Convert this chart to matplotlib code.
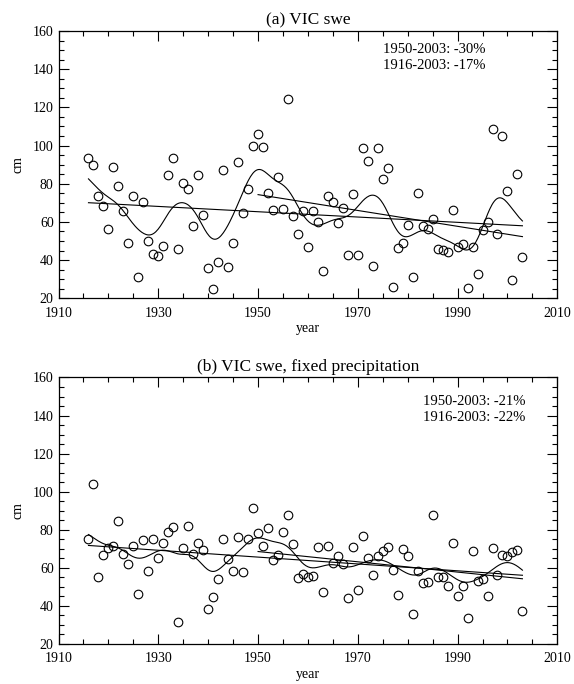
import numpy as np
import matplotlib
matplotlib.use('Agg')
import matplotlib.pyplot as plt
from matplotlib.ticker import MultipleLocator

plt.rcParams['font.family'] = ['Liberation Serif', 'DejaVu Serif']

years = np.arange(1916, 2004)
xticks = [1910, 1930, 1950, 1970, 1990, 2010]

# (a) VIC swe, cm
swe = [93.6, 89.8, 73.7, 68.5, 56.3, 88.6, 78.7, 65.6, 49.0, 73.7,
       31.2, 70.6, 50.2, 43.4, 42.2, 47.6, 84.4, 93.6, 45.7, 80.4,
       77.4, 57.7, 84.4, 63.8, 35.9, 24.9, 39.2, 87.4, 36.6, 49.0,
       91.2, 64.8, 77.1, 99.6, 106.2, 99.4, 75.0, 66.1, 83.7, 66.6,
       124.2, 63.1, 53.8, 65.7, 46.9, 65.7, 59.8, 34.1, 73.4, 70.4,
       59.4, 67.5, 42.8, 74.6, 42.8, 98.6, 91.9, 37.1, 98.7, 82.7,
       88.4, 26.1, 46.2, 48.8, 58.4, 31.0, 75.2, 58.0, 56.3, 61.5,
       46.0, 45.1, 44.3, 66.3, 47.0, 48.3, 25.2, 47.0, 32.6, 55.9,
       60.0, 108.5, 53.7, 104.9, 76.4, 29.6, 85.3, 41.6]

# (b) VIC swe, fixed precipitation, cm
swe_fixed = [75.4, 104.1, 55.1, 66.5, 70.3, 71.5, 84.8, 67.2, 61.9, 71.5,
             46.0, 74.5, 58.3, 74.9, 65.2, 72.8, 78.6, 81.5, 31.5, 70.2,
             82.0, 67.3, 72.9, 69.4, 38.5, 44.5, 54.2, 75.2, 64.4, 58.6,
             76.3, 57.9, 75.2, 91.3, 78.4, 71.5, 80.7, 64.2, 66.5, 78.6,
             88.0, 72.3, 54.8, 56.9, 55.1, 55.6, 70.9, 47.1, 71.7, 62.5,
             66.3, 61.8, 44.1, 70.9, 48.2, 76.5, 65.1, 56.3, 66.3, 68.9,
             71.2, 59.0, 45.8, 70.0, 66.3, 35.7, 58.3, 51.8, 52.5, 87.8,
             55.0, 55.0, 50.4, 72.9, 45.0, 50.6, 33.8, 68.9, 53.0, 53.9,
             45.2, 70.5, 56.3, 66.8, 66.4, 68.4, 69.4, 37.5]

titles = ['(a) VIC swe', '(b) VIC swe, fixed precipitation']
notes = [['1950-2003: -30%', '1916-2003: -17%'],
         ['1950-2003: -21%', '1916-2003: -22%']]


def smooth(x, y, xs, sigma=2.3):
    # gaussian kernel smoother
    w = np.exp(-0.5 * ((xs[:, None] - x[None, :]) / sigma) ** 2)
    return (w * y[None, :]).sum(axis=1) / w.sum(axis=1)


fig = plt.figure(figsize=(5.74, 6.84), dpi=100)
boxes = [[0.102, 0.5639, 0.869, 0.3908], [0.102, 0.0585, 0.869, 0.3896]]
note_pos = [(0.65, 0.93), (0.73, 0.91)]

for i, data in enumerate([swe, swe_fixed]):
    y = np.array(data)
    ax = fig.add_axes(boxes[i])
    ax.plot(years, y, 'o', mfc='none', mec='black', ms=6.2, mew=0.8)

    xs = np.linspace(years[0], years[-1], 400)
    ax.plot(xs, smooth(years, y, xs), color='black', lw=0.8)

    # linear trends
    for start in [1916, 1950]:
        m = years >= start
        p = np.polyfit(years[m], y[m], 1)
        xl = np.array([start, years[-1]])
        ax.plot(xl, np.polyval(p, xl), color='black', lw=0.8)

    ax.set_xlim(1910, 2010)
    ax.set_ylim(20, 160)
    ax.set_xticks(xticks)
    ax.xaxis.set_minor_locator(MultipleLocator(5))
    ax.yaxis.set_major_locator(MultipleLocator(20))
    ax.yaxis.set_minor_locator(MultipleLocator(5))
    ax.tick_params(which='both', direction='in', top=True, right=True,
                   labelsize=10, width=0.8)
    ax.tick_params(which='major', length=7)
    ax.tick_params(axis='x', which='major', pad=6)
    ax.tick_params(which='minor', length=3.5)
    for s in ax.spines.values():
        s.set_linewidth(0.9)

    ax.set_xlabel('year', fontsize=10, labelpad=2)
    ax.set_ylabel('cm', fontsize=10, labelpad=6)
    ax.set_title(titles[i], fontsize=12.5, pad=5)

    nx, ny = note_pos[i]
    ax.text(nx, ny, notes[i][0], transform=ax.transAxes, fontsize=10.5, va='center')
    ax.text(nx, ny - 0.06, notes[i][1], transform=ax.transAxes, fontsize=10.5, va='center')

plt.savefig('out.png', dpi=100)
